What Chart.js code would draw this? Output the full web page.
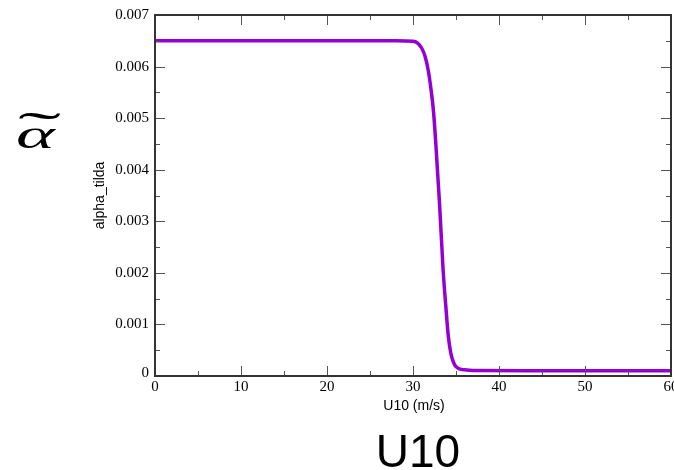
<!DOCTYPE html>
<html>
<head>
<meta charset="utf-8">
<script src="https://cdn.jsdelivr.net/npm/chart.js@4.4.1/dist/chart.umd.min.js"></script>
<style>
  html, body { margin: 0; padding: 0; background: #fff; }
  #wrap { position: relative; width: 674px; height: 470px; }
</style>
</head>
<body>
<div id="wrap"><canvas id="chart"></canvas></div>
<script>
// wind speed (m/s) vs alpha_tilda
const windSpeed = [0, 10, 20, 28, 30, 30.5, 31.0, 31.4, 31.8, 32.1, 32.4, 32.7, 33.1, 33.5, 33.85, 34.1, 34.4, 34.7, 35.0, 35.4, 36.0, 37.0, 45, 60];
const alphaTilde = [0.0065, 0.0065, 0.0065, 0.0065, 0.00649, 0.00646, 0.00636, 0.0062, 0.0059, 0.00555, 0.0051, 0.00438, 0.0033, 0.00206, 0.00128, 0.00078, 0.00044, 0.00027, 0.00018, 0.00014, 0.00012, 0.000105, 0.0001, 0.0001];

const xMajor = [0, 10, 20, 30, 40, 50, 60];
const xMinor = [5, 15, 25, 35, 45, 55];
const yMajor = [0, 0.001, 0.002, 0.003, 0.004, 0.005, 0.006, 0.007];
const yMinor = [0.0005, 0.0015, 0.0025, 0.0035, 0.0045, 0.0055, 0.0065];
const yLabels = ["0", "0.001", "0.002", "0.003", "0.004", "0.005", "0.006", "0.007"];

const FRAME = "#333";
const TICK = "#555";
const SERIF = "'Liberation Serif', 'DejaVu Serif', serif";
const SANS = "'Liberation Sans', Arial, sans-serif";

// box frame with inward ticks on all four sides, plus labels
const framePlugin = {
  id: "frame",
  afterDatasetsDraw(chart) {
    const { ctx, chartArea: a, scales: { x, y } } = chart;
    ctx.save();

    ctx.strokeStyle = TICK;
    ctx.lineWidth = 1;
    const tickX = (v, len) => {
      const px = Math.round(x.getPixelForValue(v)) + 0.5;
      ctx.beginPath();
      ctx.moveTo(px, a.bottom); ctx.lineTo(px, a.bottom - len);
      ctx.moveTo(px, a.top); ctx.lineTo(px, a.top + len);
      ctx.stroke();
    };
    const tickY = (v, len) => {
      const py = Math.round(y.getPixelForValue(v)) + 0.5;
      ctx.beginPath();
      ctx.moveTo(a.left, py); ctx.lineTo(a.left + len, py);
      ctx.moveTo(a.right, py); ctx.lineTo(a.right - len, py);
      ctx.stroke();
    };
    xMajor.forEach((v) => tickX(v, 10));
    xMinor.forEach((v) => tickX(v, 5));
    yMajor.forEach((v) => tickY(v, 10));
    yMinor.forEach((v) => tickY(v, 5));

    ctx.strokeStyle = FRAME;
    ctx.lineWidth = 2;
    ctx.strokeRect(a.left, a.top, a.right - a.left, a.bottom - a.top);

    // tick labels
    ctx.fillStyle = "#000";
    ctx.font = "15px " + SERIF;
    ctx.textAlign = "center";
    ctx.textBaseline = "top";
    xMajor.forEach((v) => ctx.fillText(String(v), x.getPixelForValue(v), a.bottom + 4));
    ctx.textAlign = "right";
    ctx.textBaseline = "middle";
    yMajor.forEach((v, i) => {
      const py = y.getPixelForValue(v) - (i === 0 ? 3 : 0);
      ctx.fillText(yLabels[i], a.left - 6, py);
    });

    // axis titles
    ctx.font = "14px " + SANS;
    ctx.textAlign = "center";
    ctx.textBaseline = "middle";
    ctx.fillText("U10 (m/s)", (a.left + a.right) / 2 + 1, 406);
    ctx.save();
    ctx.translate(100, (a.top + a.bottom) / 2);
    ctx.rotate(-Math.PI / 2);
    ctx.fillText("alpha_tilda", 0, 0);
    ctx.restore();

    // large annotations: alpha with a wide tilde above
    ctx.textAlign = "left";
    ctx.textBaseline = "alphabetic";
    ctx.save();
    ctx.translate(16, 148);
    ctx.scale(1.8, 1);
    ctx.font = "italic 41px " + SERIF;
    ctx.fillText("α", 0, 0);
    ctx.restore();
    ctx.save();
    ctx.translate(18, 146);
    ctx.scale(2.7, 1);
    ctx.font = "48px " + SERIF;
    ctx.fillText("˜", 0, 0);
    ctx.restore();

    ctx.font = "46px " + SANS;
    ctx.textAlign = "center";
    ctx.fillText("U10", 418, 467);

    ctx.restore();
  },
};

new Chart(document.getElementById("chart"), {
  type: "line",
  data: {
    datasets: [{
      label: "alpha_tilda",
      data: windSpeed.map((u, i) => ({ x: u, y: alphaTilde[i] })),
      borderColor: "#9400d3",
      borderWidth: 3.5,
      pointRadius: 0,
      fill: false,
      cubicInterpolationMode: "monotone",
    }],
  },
  options: {
    responsive: true,
    maintainAspectRatio: false,
    animation: false,
    layout: { padding: { left: 155, top: 15, right: 3, bottom: 94 } },
    scales: {
      x: { type: "linear", min: 0, max: 60, display: false },
      y: { type: "linear", min: 0, max: 0.007, display: false },
    },
    plugins: { legend: { display: false }, tooltip: { enabled: false } },
  },
  plugins: [framePlugin],
});
</script>
</body>
</html>
